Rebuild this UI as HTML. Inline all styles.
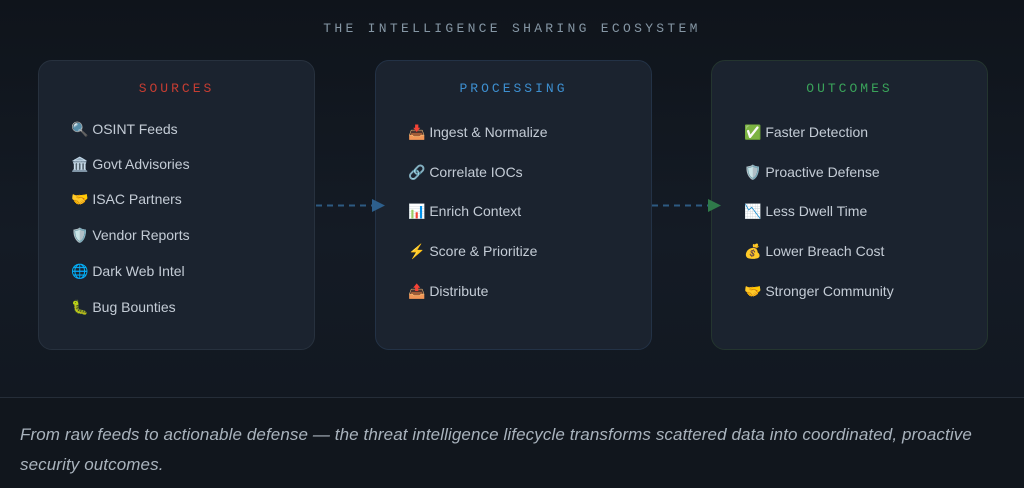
<!DOCTYPE html>
<html><head><meta charset="utf-8"><style>
body{margin:0;width:1024px;height:488px;overflow:hidden;background:#11161d;font-family:"Liberation Sans","Noto Sans CJK JP",sans-serif;position:relative}
.top{position:absolute;left:0;top:0;width:1024px;height:397px;background:linear-gradient(180deg,#0f141b,#141b25 60%,#121821);border-bottom:1px solid #252d38}
.title{position:absolute;top:21px;left:0;width:1024px;text-align:center;font-family:"Liberation Mono",monospace;font-size:13px;letter-spacing:3.3px;color:#8596a4}
.box{position:absolute;top:60px;width:277px;height:290px;border-radius:14px;background:#1b232f;border:1px solid #27313e;box-sizing:border-box}
.box h3{margin:0;position:absolute;top:20px;width:100%;text-align:center;font-family:"Liberation Mono",monospace;font-weight:normal;font-size:13px;letter-spacing:3px}
.it{position:absolute;left:32px;font-size:14px;color:#c4ccd6;white-space:nowrap;line-height:20px}
.cap{position:absolute;left:20px;top:420px;width:990px;font-style:italic;font-size:17px;line-height:30px;color:#a9b3bd;letter-spacing:0.1px}
</style></head><body>
<div class="top"></div>
<div class="title">THE INTELLIGENCE SHARING ECOSYSTEM</div>
<div class="box" style="left:38px"><h3 style="color:#c63d32">SOURCES</h3>
<div class="it" style="top:58px">🔍 OSINT Feeds</div>
<div class="it" style="top:93px">🏛️ Govt Advisories</div>
<div class="it" style="top:128px">🤝 ISAC Partners</div>
<div class="it" style="top:164px">🛡️ Vendor Reports</div>
<div class="it" style="top:200px">🌐 Dark Web Intel</div>
<div class="it" style="top:236px">🐛 Bug Bounties</div>
</div>
<div class="box" style="left:375px;border-color:#233246"><h3 style="color:#3d8fd0">PROCESSING</h3>
<div class="it" style="top:61px">📥 Ingest &amp; Normalize</div>
<div class="it" style="top:101px">🔗 Correlate IOCs</div>
<div class="it" style="top:140px">📊 Enrich Context</div>
<div class="it" style="top:180px">⚡ Score &amp; Prioritize</div>
<div class="it" style="top:220px">📤 Distribute</div>
</div>
<div class="box" style="left:711px;border-color:#24352f"><h3 style="color:#3aa35a">OUTCOMES</h3>
<div class="it" style="top:61px">✅ Faster Detection</div>
<div class="it" style="top:101px">🛡️ Proactive Defense</div>
<div class="it" style="top:140px">📉 Less Dwell Time</div>
<div class="it" style="top:180px">💰 Lower Breach Cost</div>
<div class="it" style="top:220px">🤝 Stronger Community</div>
</div>
<svg style="position:absolute;left:0;top:0" width="1024" height="488">
<line x1="316" y1="205.5" x2="372" y2="205.5" stroke="#2d5a82" stroke-width="2" stroke-dasharray="6,5"/>
<polygon points="372,199 385,205.5 372,212" fill="#2d5f8c"/>
<line x1="652" y1="205.5" x2="708" y2="205.5" stroke="#2d5a82" stroke-width="2" stroke-dasharray="6,5"/>
<polygon points="708,199 721,205.5 708,212" fill="#2f7a4a"/>
</svg>
<div class="cap">From raw feeds to actionable defense — the threat intelligence lifecycle transforms scattered data into coordinated, proactive security outcomes.</div>
</body></html>
